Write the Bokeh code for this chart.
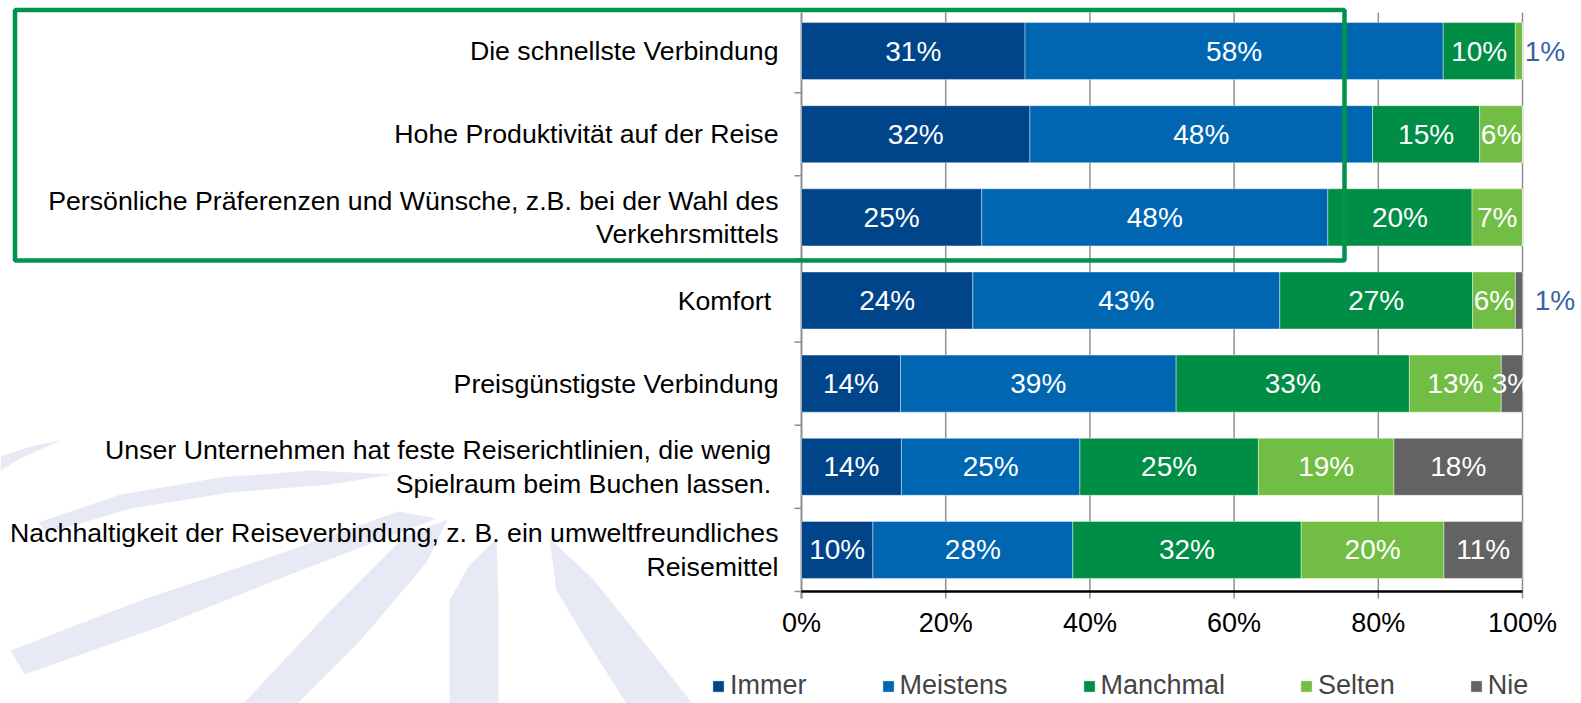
from bokeh.plotting import figure
from bokeh.models import Range1d, ColumnDataSource, Legend, LegendItem, BoxAnnotation
from bokeh.core.properties import value
from bokeh.embed import file_html
from bokeh.resources import INLINE

FONT = "Liberation Sans"

categories = [
    "Die schnellste Verbindung",
    "Hohe Produktivität auf der Reise",
    "Persönliche Präferenzen und Wünsche, z.B. bei der Wahl des\nVerkehrsmittels",
    "Komfort ",
    "Preisgünstigste Verbindung",
    "Unser Unternehmen hat feste Reiserichtlinien, die wenig \nSpielraum beim Buchen lassen. ",
    "Nachhaltigkeit der Reiseverbindung, z. B. ein umweltfreundliches\nReisemittel",
]
series = ["Immer", "Meistens", "Manchmal", "Selten", "Nie"]
immer    = [31, 32, 25, 24, 14, 14, 10]
meistens = [58, 48, 48, 43, 39, 25, 28]
manchmal = [10, 15, 20, 27, 33, 25, 32]
selten   = [1, 6, 7, 6, 13, 19, 20]
nie      = [0, 0, 0, 1, 3, 18, 11]
values = [immer, meistens, manchmal, selten, nie]
colors = ["#00458A", "#0066B2", "#008D45", "#72BE44", "#636363"]
x_ticks = [0, 20, 40, 60, 80, 100]
x_tick_labels = ["0%", "20%", "40%", "60%", "80%", "100%"]

# labels drawn beside the bar end: (row, series, pixel offset)
outside = [(0, 3, 26), (3, 4, 36)]

n = len(categories)
ypos = [i + 0.5 for i in range(n)]
totals = [sum(v[i] for v in values) for i in range(n)]

# ---- layout (pixels) ----
W, H = 1581, 703
X0_PX, X100_PX = 801, 1522
YT_PX, YB_PX = 9, 591
ppx = (X100_PX - X0_PX) / 100.0
ppy = (YB_PX - YT_PX) / n

def fx(px):
    return (px - X0_PX) / ppx

def fy(py):
    return (py - YT_PX) / ppy

p = figure(width=W, height=H, output_backend="svg", toolbar_location=None,
           x_range=Range1d(fx(0), fx(W)), y_range=Range1d(fy(H), fy(0)),
           x_axis_location=None, y_axis_location=None, min_border=0)
p.outline_line_color = None
for g in p.grid:
    g.visible = False

# ---- faint background watermark ----
wm = [
    [(38, 522), (120, 494), (220, 477), (310, 470), (392, 474), (330, 484), (230, 492), (130, 508), (46, 533)],
    [(10, 650), (140, 600), (280, 553), (398, 511), (436, 518), (300, 570), (160, 626), (24, 674)],
    [(243, 703), (330, 610), (405, 535), (447, 519), (426, 562), (360, 640), (297, 703)],
    [(449, 703), (449, 600), (468, 566), (496, 538), (498, 600), (498, 703)],
    [(549, 538), (592, 578), (642, 640), (692, 703), (626, 703), (586, 640), (556, 590)],
    [(0, 456), (30, 446), (60, 440), (20, 458), (0, 470)],
]
p.patches(xs=[[fx(a) for a, b in s] for s in wm], ys=[[fy(b) for a, b in s] for s in wm],
          fill_color="#E7E9F4", line_color=None)

# ---- grid lines, axes, ticks ----
grid_col = "#8F8F8F"
p.segment(x0=x_ticks[1:], y0=3 / ppy, x1=x_ticks[1:], y1=n, line_color=grid_col, line_width=1.5)
p.segment(x0=x_ticks, y0=n, x1=x_ticks, y1=n + 7 / ppy, line_color=grid_col, line_width=1.5)
p.segment(x0=0, y0=list(range(1, n + 1)), x1=-7 / ppx, y1=list(range(1, n + 1)),
          line_color=grid_col, line_width=1.5)
p.segment(x0=0, y0=3 / ppy, x1=0, y1=n + 7 / ppy, line_color=grid_col, line_width=2)

# ---- bars ----
renderers = []
in_x, in_y, in_t = [], [], []
out_x, out_y, out_t, out_off = [], [], [], []
left = [0.0] * n
for j, (name, vals, col) in enumerate(zip(series, values, colors)):
    lefts = left[:]
    rights = [l + 100.0 * v / t for l, v, t in zip(lefts, vals, totals)]
    src = ColumnDataSource(dict(y=ypos, left=lefts, right=rights))
    r = p.hbar(y="y", left="left", right="right", height=0.686, source=src,
               fill_color=col, line_color="white", line_width=0.8, line_alpha=0.5)
    renderers.append(r)
    for i in range(n):
        if vals[i] <= 0:
            continue
        c = (lefts[i] + rights[i]) / 2
        lab = f"{vals[i]}%"
        off = [o for (ri, sj, o) in outside if ri == i and sj == j]
        if off:
            out_x.append(c); out_y.append(ypos[i]); out_t.append(lab); out_off.append(off[0])
        else:
            in_x.append(min(c, 100.0)); in_y.append(ypos[i]); in_t.append(lab)
    left = rights

# x axis line
p.segment(x0=0, y0=n, x1=100, y1=n, line_color="black", line_width=2.5)

# bar value labels (clipped at the 100% edge like the original)
bar_lab_src = ColumnDataSource(dict(x=in_x, y=in_y, t=in_t))
p.text(x="x", y="y", text="t", source=bar_lab_src, text_color="white", text_align="center",
       text_baseline="middle", text_font=value(FONT), text_font_size="28px")
p.text(x=out_x, y=out_y, text=out_t, x_offset=out_off, text_color="#3A62A7",
       text_align="center", text_baseline="middle", text_font=value(FONT),
       text_font_size="28px")

# category labels
p.text(x=0, y=ypos, text=categories, x_offset=-23, text_align="right",
       text_baseline="middle", text_font=value(FONT), text_font_size="26.7px",
       text_color="black", text_line_height=1.12)

# x tick labels
p.text(x=x_ticks, y=n, text=x_tick_labels, y_offset=31, text_align="center",
       text_baseline="middle", text_font=value(FONT), text_font_size="27px",
       text_color="black")

# highlight box around first three categories
p.add_layout(BoxAnnotation(left=14.5, right=1344, top=9.5, bottom=260,
                           left_units="canvas", right_units="canvas",
                           top_units="canvas", bottom_units="canvas",
                           fill_alpha=0, line_color="#00944A", line_alpha=1,
                           line_width=4.5))

legend = Legend(items=[LegendItem(label=s, renderers=[r]) for s, r in zip(series, renderers)],
                orientation="horizontal", location=(711, 2), spacing=74,
                glyph_width=14, glyph_height=14, label_standoff=5, label_height=30,
                label_text_font=FONT, label_text_font_size="27px",
                border_line_color=None, background_fill_alpha=0, padding=0, margin=0)
p.add_layout(legend, "center")

open("out.html", "w").write(file_html(p, INLINE))
